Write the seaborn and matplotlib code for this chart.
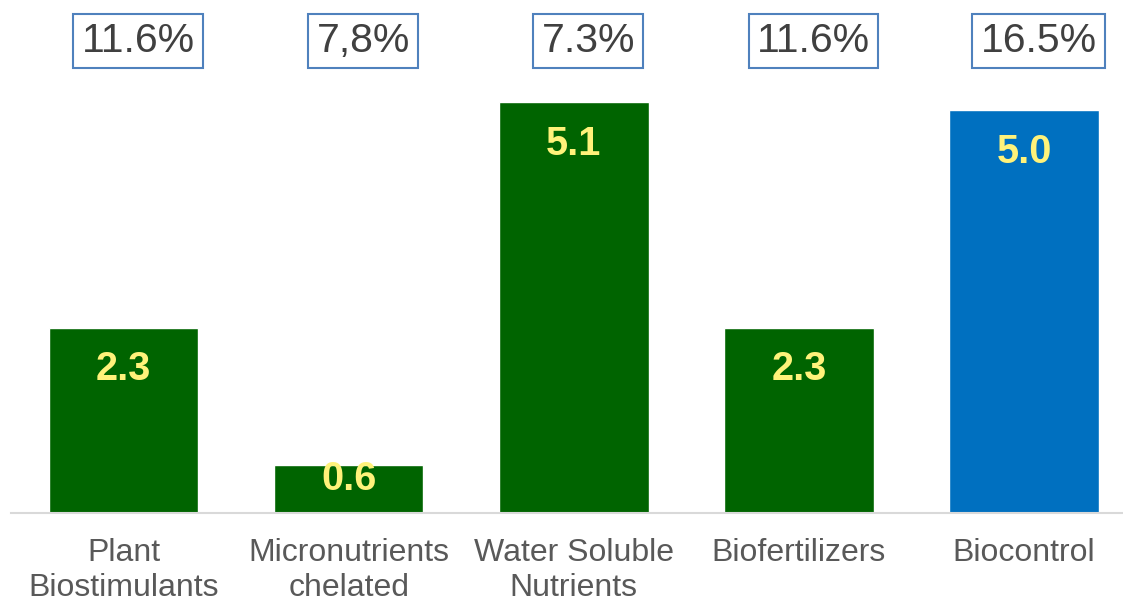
import matplotlib
matplotlib.use("Agg")
import matplotlib.pyplot as plt
import seaborn as sns
import pandas as pd

categories = ["Plant\nBiostimulants", "Micronutrients\nchelated", "Water Soluble\nNutrients",
              "Biofertilizers", "Biocontrol"]
values = [2.3, 0.6, 5.1, 2.3, 5.0]
value_labels = ["2.3", "0.6", "5.1", "2.3", "5.0"]
growth_labels = ["11.6%", "7,8%", "7.3%", "11.6%", "16.5%"]
bar_colors = ["#006400", "#006400", "#006400", "#006400", "#0070C0"]

sns.set_style("white")
plt.rcParams['font.family'] = ['Liberation Sans', 'DejaVu Sans']

df = pd.DataFrame({"category": categories, "value": values})

fig = plt.figure(figsize=(11.23, 6.05), dpi=100)
ax = fig.add_axes([11 / 1123, 92 / 605, 1 - 11 / 1123, 513 / 605])

sns.barplot(data=df, x="category", y="value", hue="category", palette=bar_colors,
            width=0.665, saturation=1, legend=False, ax=ax)

ax.set_xlim(-0.5, 4.44)
ax.set_ylim(0, 6.37)
ax.set_xlabel("")
ax.set_ylabel("")
ax.set_yticks([])
for s in ["top", "right", "left"]:
    ax.spines[s].set_visible(False)
ax.spines["bottom"].set_color("#D9D9D9")
ax.spines["bottom"].set_linewidth(1.5)
ax.tick_params(axis="x", length=0, pad=18, labelsize=23, labelcolor="#595959")
for lbl in ax.get_xticklabels():
    lbl.set_linespacing(1.22)

# value labels inside bars
for i, (v, txt) in enumerate(zip(values, value_labels)):
    off = min(30, v * 80.5 * 0.22)
    ax.annotate(txt, (i, v), xytext=(0, -off), textcoords="offset points",
                ha="center", va="center", fontsize=28.5, fontweight="bold", color="#FFF27A")

# growth boxes on top
for i, g in enumerate(growth_labels):
    ax.text(i + 0.065, 0.92, g, transform=ax.get_xaxis_transform(), ha="center", va="center",
            fontsize=29.5, color="#404040",
            bbox=dict(boxstyle="square,pad=0.2", facecolor="white", edgecolor="#4F81BD", linewidth=1.5))

fig.savefig("out.png", dpi=100)
